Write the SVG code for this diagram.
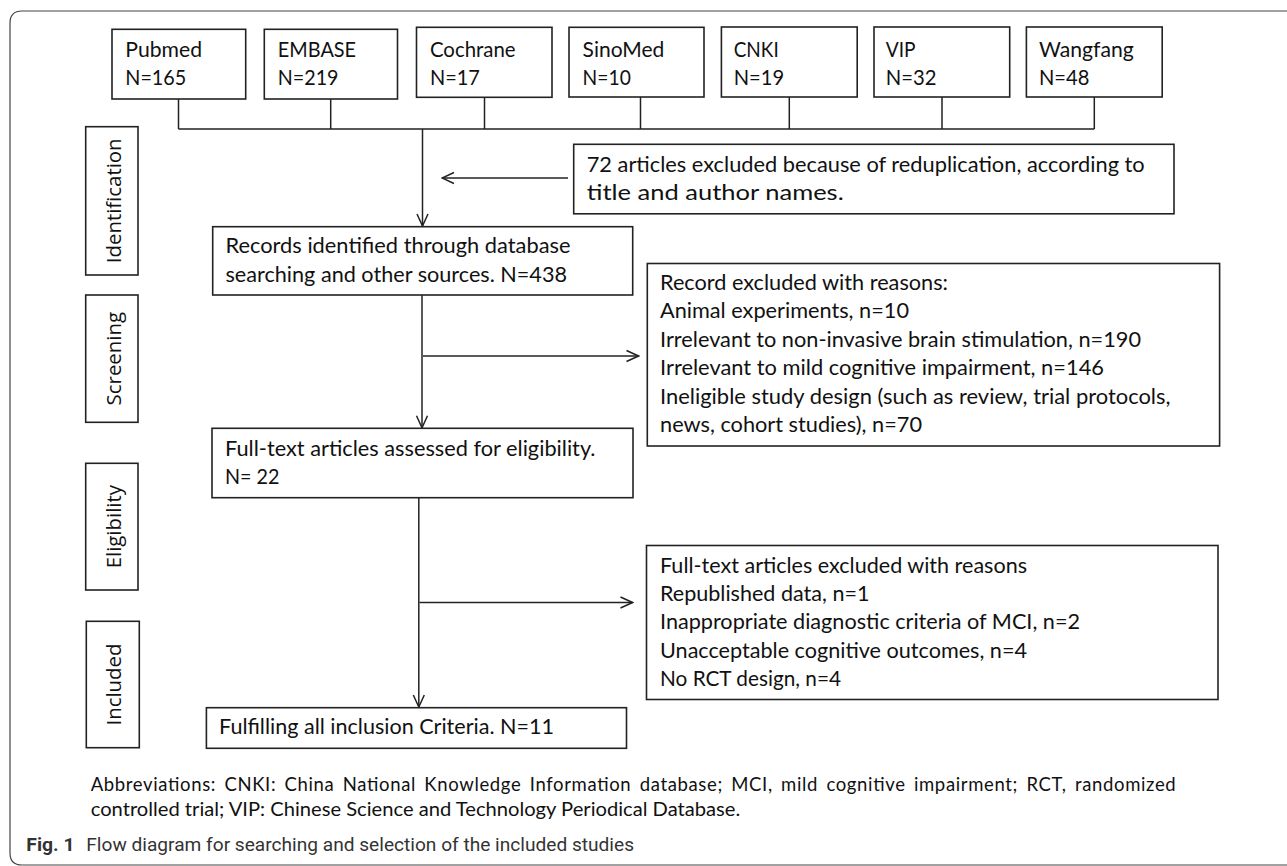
<svg xmlns="http://www.w3.org/2000/svg" width="1287" height="866" viewBox="0 0 1287 866">
<style>
.box{fill:#fff;stroke:#222;stroke-width:1.6}
.t{font-family:Lato,"Open Sans",sans-serif;font-size:22px;fill:#111}
.side{font-family:"Open Sans",sans-serif;font-size:20.4px;fill:#111;text-anchor:middle}
.ln{fill:none;stroke:#222;stroke-width:1.5}
.ab{font-family:Lato,sans-serif;font-size:18.5px;fill:#111}
.cap{font-family:Roboto,sans-serif;font-size:19px;fill:#333}
.frame{fill:none;stroke:#444;stroke-width:1.2}
</style>
<defs>
<marker id="ah" markerUnits="userSpaceOnUse" markerWidth="14" markerHeight="14" viewBox="0 0 14 14" refX="13" refY="7" orient="auto"><path d="M1,1.5 L13,7 L1,12.5" fill="none" stroke="#222" stroke-width="1.5"/></marker>
</defs>
<path class="frame" d="M1287,11 H22 Q10,11 10,23 V853 Q10,865 22,865 H1287"/>

<g id="connectors">
<path class="ln" d="M178.5,99 V129 M330.7,99 V129 M484.5,97 V129 M640.5,97 V129 M789.3,97 V129 M942,97 V129 M1094.3,97 V129 M178.5,129 H1094.3"/>
<path class="ln" d="M422.5,129 V226" marker-end="url(#ah)"/>
<path class="ln" d="M568,178 H442" marker-end="url(#ah)"/>
<path class="ln" d="M422,295 V427.8" marker-end="url(#ah)"/>
<path class="ln" d="M423,356 H638.5" marker-end="url(#ah)"/>
<path class="ln" d="M418.8,497.7 V707" marker-end="url(#ah)"/>
<path class="ln" d="M419.5,602.5 H632.5" marker-end="url(#ah)"/>
</g>

<g id="pubmed"><rect class="box" x="112" y="29.3" width="133.7" height="69.7"/>
<text class="t" x="125.3" y="57" textLength="76.7" lengthAdjust="spacingAndGlyphs">Pubmed</text>
<text class="t" x="125.3" y="85" textLength="61" lengthAdjust="spacingAndGlyphs">N=165</text></g>
<g id="embase"><rect class="box" x="264.3" y="29.3" width="133.2" height="69.7"/>
<text class="t" x="277.8" y="57" textLength="78.3" lengthAdjust="spacingAndGlyphs">EMBASE</text>
<text class="t" x="277.8" y="85" textLength="60.7" lengthAdjust="spacingAndGlyphs">N=219</text></g>
<g id="cochrane"><rect class="box" x="416.5" y="27.3" width="135.5" height="70"/>
<text class="t" x="429.9" y="57" textLength="85.7" lengthAdjust="spacingAndGlyphs">Cochrane</text>
<text class="t" x="429.9" y="85" textLength="50" lengthAdjust="spacingAndGlyphs">N=17</text></g>
<g id="sinomed"><rect class="box" x="569" y="27.3" width="135" height="69.7"/>
<text class="t" x="582.6" y="57" textLength="81.8" lengthAdjust="spacingAndGlyphs">SinoMed</text>
<text class="t" x="582.6" y="85" textLength="48.2" lengthAdjust="spacingAndGlyphs">N=10</text></g>
<g id="cnki"><rect class="box" x="721.4" y="27" width="135.8" height="70"/>
<text class="t" x="733.7" y="57" textLength="45" lengthAdjust="spacingAndGlyphs">CNKI</text>
<text class="t" x="733.7" y="85" textLength="50.4" lengthAdjust="spacingAndGlyphs">N=19</text></g>
<g id="vip"><rect class="box" x="874" y="27" width="135.7" height="70"/>
<text class="t" x="885.7" y="57" textLength="29.8" lengthAdjust="spacingAndGlyphs">VIP</text>
<text class="t" x="885.7" y="85" textLength="50.8" lengthAdjust="spacingAndGlyphs">N=32</text></g>
<g id="wangfang"><rect class="box" x="1026.4" y="27" width="135.8" height="70"/>
<text class="t" x="1039" y="57" textLength="94.7" lengthAdjust="spacingAndGlyphs">Wangfang</text>
<text class="t" x="1039" y="85" textLength="50.4" lengthAdjust="spacingAndGlyphs">N=48</text></g>

<g id="duplicates"><rect class="box" x="573.7" y="144.3" width="600.3" height="69.5"/>
<text class="t" x="586.7" y="172" textLength="558" lengthAdjust="spacingAndGlyphs">72 articles excluded because of reduplication, according to</text>
<text class="t" x="586.7" y="200" textLength="257" lengthAdjust="spacingAndGlyphs">title and author names.</text></g>

<g id="records"><rect class="box" x="212.7" y="226.7" width="420" height="68.3"/>
<text class="t" x="225.5" y="253.3" textLength="345" lengthAdjust="spacingAndGlyphs">Records identified through database</text>
<text class="t" x="225.5" y="281.7" textLength="341.5" lengthAdjust="spacingAndGlyphs">searching and other sources. N=438</text></g>

<g id="excluded1"><rect class="box" x="647.3" y="263.5" width="572.3" height="182.5"/>
<text class="t" x="660" y="289.5" textLength="288" lengthAdjust="spacingAndGlyphs">Record excluded with reasons:</text>
<text class="t" x="660" y="318" textLength="249" lengthAdjust="spacingAndGlyphs">Animal experiments, n=10</text>
<text class="t" x="660" y="346.5" textLength="481" lengthAdjust="spacingAndGlyphs">Irrelevant to non-invasive brain stimulation, n=190</text>
<text class="t" x="660" y="375" textLength="444" lengthAdjust="spacingAndGlyphs">Irrelevant to mild cognitive impairment, n=146</text>
<text class="t" x="660" y="403.5" textLength="510.5" lengthAdjust="spacingAndGlyphs">Ineligible study design (such as review, trial protocols,</text>
<text class="t" x="660" y="432" textLength="262" lengthAdjust="spacingAndGlyphs">news, cohort studies), n=70</text></g>

<g id="fulltext"><rect class="box" x="212" y="428.3" width="421" height="69.4"/>
<text class="t" x="225" y="455.7" textLength="370.5" lengthAdjust="spacingAndGlyphs">Full-text articles assessed for eligibility.</text>
<text class="t" x="225" y="484" textLength="54.5" lengthAdjust="spacingAndGlyphs">N= 22</text></g>

<g id="excluded2"><rect class="box" x="646.5" y="545.5" width="571.5" height="154"/>
<text class="t" x="660" y="572.7" textLength="367" lengthAdjust="spacingAndGlyphs">Full-text articles excluded with reasons</text>
<text class="t" x="660" y="601" textLength="209.5" lengthAdjust="spacingAndGlyphs">Republished data, n=1</text>
<text class="t" x="660" y="629.3" textLength="420" lengthAdjust="spacingAndGlyphs">Inappropriate diagnostic criteria of MCI, n=2</text>
<text class="t" x="660" y="657.7" textLength="367" lengthAdjust="spacingAndGlyphs">Unacceptable cognitive outcomes, n=4</text>
<text class="t" x="660" y="685.7" textLength="181" lengthAdjust="spacingAndGlyphs">No RCT design, n=4</text></g>

<g id="included-studies"><rect class="box" x="206.4" y="707.7" width="420.1" height="40.6"/>
<text class="t" x="219" y="733.8" textLength="335" lengthAdjust="spacingAndGlyphs">Fulfilling all inclusion Criteria. N=11</text></g>

<g id="stage-identification"><rect class="box" x="85.7" y="126.7" width="52.3" height="148.3"/>
<text class="side" transform="translate(120.5,200.8) rotate(-90)">Identification</text></g>
<g id="stage-screening"><rect class="box" x="85.7" y="295" width="52.3" height="127.3"/>
<text class="side" transform="translate(120.5,358.7) rotate(-90)">Screening</text></g>
<g id="stage-eligibility"><rect class="box" x="85.7" y="463.3" width="52.3" height="126.7"/>
<text class="side" transform="translate(120.5,526.7) rotate(-90)">Eligibility</text></g>
<g id="stage-included"><rect class="box" x="86.3" y="621.3" width="53" height="126.4"/>
<text class="side" transform="translate(121,684.5) rotate(-90)">Included</text></g>

<g id="abbreviations">
<text class="ab" x="90.7" y="791" textLength="1085" lengthAdjust="spacing" word-spacing="3">Abbreviations: CNKI: China National Knowledge Information database; MCI, mild cognitive impairment; RCT, randomized</text>
<text class="ab" x="90.7" y="816" textLength="649.5" lengthAdjust="spacingAndGlyphs">controlled trial; VIP: Chinese Science and Technology Periodical Database.</text>
</g>
<g id="caption">
<text class="cap" x="26.3" y="851" font-weight="bold" textLength="48.2" lengthAdjust="spacingAndGlyphs">Fig. 1</text>
<text class="cap" x="86.3" y="851" textLength="547.7" lengthAdjust="spacingAndGlyphs">Flow diagram for searching and selection of the included studies</text>
</g>
</svg>
